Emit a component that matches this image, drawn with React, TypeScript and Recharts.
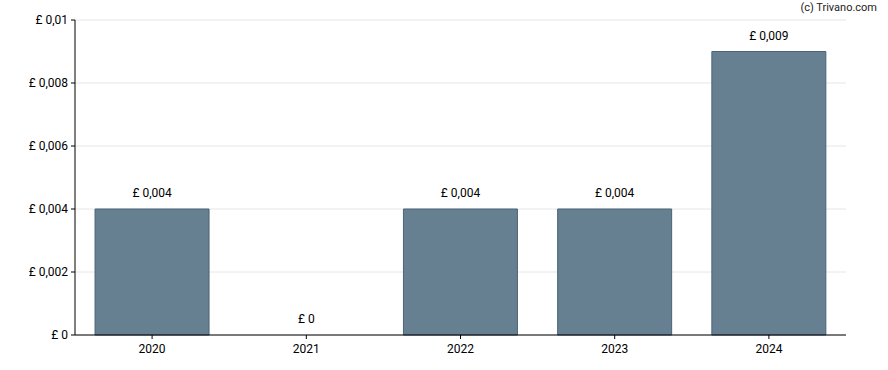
import React from 'react';
import { ComposedChart, Bar, Line, XAxis, YAxis, CartesianGrid, LabelList } from 'recharts';

const years = ['2020', '2021', '2022', '2023', '2024'];
const dividends = [0.004, 0, 0.004, 0.004, 0.009];
const yTicks = [0, 0.002, 0.004, 0.006, 0.008, 0.01];

const data = years.map((y, i) => ({ year: y, value: dividends[i] }));

const fmt = (v: number) => '£ ' + String(Number(v.toFixed(4))).replace('.', ',');

const FONT = 'Roboto, "Liberation Sans", Arial, sans-serif';

export default function App() {
  return (
    <div style={{ position: 'absolute', left: 0, top: 0, width: 888, height: 370, background: '#fff', fontFamily: FONT }}>
      <ComposedChart
        width={888}
        height={370}
        data={data}
        margin={{ top: 20, right: 42, bottom: 0, left: 0 }}
        barCategoryGap="13%"
      >
        <CartesianGrid vertical={false} stroke="#e6e6e6" strokeWidth={1} />
        <XAxis
          dataKey="year"
          height={35}
          axisLine={{ stroke: '#000' }}
          tickLine={{ stroke: '#000' }}
          tickSize={4}
          tickMargin={5}
          tick={{ fill: '#000', fontSize: 12, fontFamily: FONT }}
        />
        <YAxis
          width={75}
          domain={[0, 0.01]}
          ticks={yTicks}
          tickFormatter={fmt}
          axisLine={{ stroke: '#000' }}
          tickLine={{ stroke: '#000' }}
          tickSize={4}
          tickMargin={3}
          tick={{ fill: '#000', fontSize: 12, fontFamily: FONT }}
          interval={0}
        />
        <Bar dataKey="value" fill="#667f91" stroke="#4b6478" strokeWidth={1} isAnimationActive={false} />
        <Line dataKey="value" stroke="none" dot={false} activeDot={false} legendType="none" isAnimationActive={false}>
          <LabelList dataKey="value" position="top" offset={12} formatter={(v: number) => fmt(v)} style={{ fill: '#000', fontSize: 12, fontFamily: FONT }} />
        </Line>
      </ComposedChart>
      <div style={{ position: 'absolute', right: 11, top: 1, fontSize: 11, color: '#222', fontFamily: FONT }}>(c) Trivano.com</div>
    </div>
  );
}
